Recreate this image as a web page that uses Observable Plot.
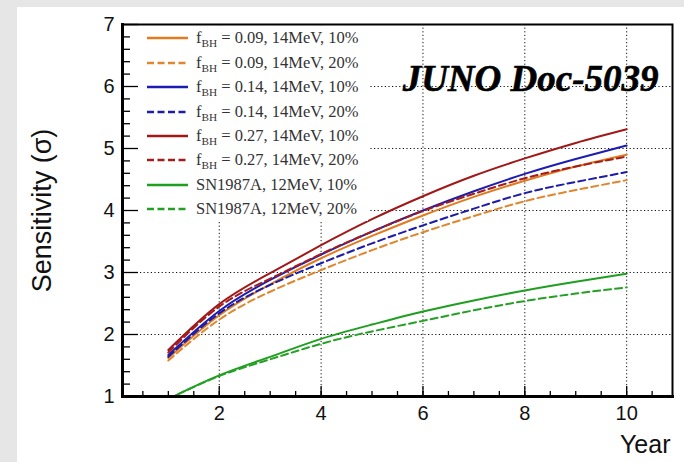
<!DOCTYPE html>
<html>
<head>
<meta charset="utf-8">
<script src="https://cdn.jsdelivr.net/npm/d3@7"></script>
<script src="https://cdn.jsdelivr.net/npm/@observablehq/plot@0.6"></script>
<style>
  html, body { margin: 0; padding: 0; width: 684px; height: 462px; overflow: hidden; background: #e6e6e6; }
  #panel { position: absolute; left: 17px; top: 7px; right: 0; bottom: 0; background: #ffffff; }
  #chart { position: absolute; left: 0; top: 0; }
  #legend { position: absolute; left: 139px; top: 26px; width: 229px; height: 195px; background: #ffffff; }
  .row { position: absolute; left: 0; height: 24px; display: flex; align-items: center; white-space: nowrap;
         font-family: "Liberation Serif", "Times New Roman", serif; font-size: 16.5px; color: #333; }
  .row svg { margin-left: 8px; margin-right: 8px; }
  .row sub { font-size: 0.68em; vertical-align: -0.4em; line-height: 0; }
</style>
</head>
<body>
<div id="panel"></div>
<div id="chart"></div>
<div id="legend"></div>
<script>
// ---- data ----
const years = [1, 2, 3, 4, 5, 6, 7, 8, 9, 10];
const fbh009_10 = [1.62, 2.31, 2.81, 3.23, 3.59, 3.92, 4.22, 4.48, 4.71, 4.90];
const fbh009_20 = [1.58, 2.24, 2.69, 3.04, 3.36, 3.65, 3.91, 4.15, 4.33, 4.49];
const fbh014_10 = [1.67, 2.38, 2.88, 3.29, 3.66, 4.00, 4.31, 4.59, 4.83, 5.05];
const fbh014_20 = [1.64, 2.34, 2.80, 3.15, 3.47, 3.76, 4.03, 4.28, 4.46, 4.62];
const fbh027_10 = [1.75, 2.49, 2.99, 3.44, 3.86, 4.23, 4.56, 4.84, 5.09, 5.31];
const fbh027_20 = [1.71, 2.45, 2.90, 3.30, 3.66, 3.99, 4.27, 4.52, 4.71, 4.87];
const sn1987a_10 = [0.96, 1.34, 1.64, 1.93, 2.16, 2.37, 2.55, 2.71, 2.85, 2.98];
const sn1987a_20 = [0.96, 1.33, 1.60, 1.85, 2.05, 2.22, 2.39, 2.54, 2.66, 2.76];

const seriesValues = [fbh009_10, fbh009_20, fbh014_10, fbh014_20, fbh027_10, fbh027_20, sn1987a_10, sn1987a_20];
const seriesFbh = ["0.09", "0.09", "0.14", "0.14", "0.27", "0.27", null, null];
const seriesEnergy = ["14MeV", "14MeV", "14MeV", "14MeV", "14MeV", "14MeV", "12MeV", "12MeV"];
const seriesUnc = ["10%", "20%", "10%", "20%", "10%", "20%", "10%", "20%"];
const seriesColors = ["#e07b1e", "#e0862e", "#1c1cb0", "#1c1ca8", "#a01818", "#a51c1c", "#1f9f1f", "#25a025"];
const seriesDashed = [false, true, false, true, false, true, false, true];

const xTickLabels = [2, 4, 6, 8, 10];
const yTickLabels = [1, 2, 3, 4, 5, 6, 7];
const xMinorTicks = d3.range(0.5, 10.9, 0.5);
const yMinorTicks = d3.range(1, 7.0001, 0.2).map(d => +d.toFixed(1)).filter(d => Math.abs(d - Math.round(d)) > 1e-6);

// ---- layout ----
const W = 684, H = 462, mL = 122, mT = 24, mR = 12, mB = 66;
const frameW = W - mL - mR, frameH = H - mT - mB;

const rows = seriesValues.map((vals, i) => years.map((x, j) => ({series: i, x, y: vals[j]})));

const lineMarks = rows.map((data, i) => Plot.line(data, {
  x: "x", y: "y", stroke: seriesColors[i], strokeWidth: 2,
  strokeDasharray: seriesDashed[i] ? "7,4" : null,
  curve: "natural", clip: true
}));

const chart = Plot.plot({
  width: W, height: H,
  marginLeft: mL, marginTop: mT, marginRight: mR, marginBottom: mB,
  style: {background: "transparent", fontFamily: "'Liberation Sans', Arial, sans-serif", fontSize: "19px", color: "#000", overflow: "visible"},
  x: {domain: [0.1, 10.9], axis: null},
  y: {domain: [1, 7], axis: null},
  marks: [
    Plot.ruleX(xTickLabels, {stroke: "#111", strokeWidth: 1, strokeDasharray: "1.2,2.4"}),
    Plot.ruleY(yTickLabels.filter(d => d > 1 && d < 7), {stroke: "#111", strokeWidth: 1, strokeDasharray: "1.2,2.4"}),
    ...lineMarks,
    Plot.tickX(xMinorTicks, {stroke: "#000", strokeWidth: 1.3, insetTop: frameH - 5}),
    Plot.tickX(xTickLabels, {stroke: "#000", strokeWidth: 1.3, insetTop: frameH - 10}),
    Plot.tickY(yMinorTicks, {stroke: "#000", strokeWidth: 1.3, insetRight: frameW - 8}),
    Plot.tickY(yTickLabels, {stroke: "#000", strokeWidth: 1.3, insetRight: frameW - 16}),
    Plot.text(xTickLabels, {x: d => d, text: d => String(d), frameAnchor: "bottom", lineAnchor: "top",
      dy: 9, fontSize: 20, fill: "#111"}),
    Plot.text(yTickLabels, {y: d => d, text: d => String(d), frameAnchor: "left", textAnchor: "end",
      lineAnchor: "middle", dx: -8, fontSize: 20, fill: "#111"}),
    Plot.frame({stroke: "#000", strokeWidth: 2}),
    Plot.frame({anchor: "left", stroke: "#000", strokeWidth: 3}),
    Plot.frame({anchor: "bottom", stroke: "#000", strokeWidth: 3}),
    Plot.text(["Year"], {frameAnchor: "bottom-right", text: d => d, textAnchor: "end", lineAnchor: "bottom",
      dx: -2, dy: 56, fontSize: 25, fill: "#111"}),
    Plot.text(["Sensitivity (σ)"], {frameAnchor: "left", text: d => d, rotate: -90, textAnchor: "middle",
      lineAnchor: "middle", dx: -80, fontSize: 27, fill: "#111"}),
    Plot.text(["JUNO Doc-5039"], {frameAnchor: "top-right", text: d => d, textAnchor: "end", lineAnchor: "bottom",
      dx: -14, dy: 66, fontSize: 37, fontWeight: "bold", fontStyle: "italic",
      fontFamily: "'Liberation Serif', 'Times New Roman', serif", fill: "#000",
      stroke: "#000", strokeWidth: 0.6})
  ]
});
document.getElementById("chart").appendChild(chart);

// ---- legend ----
const legend = document.getElementById("legend");
const rowSpacing = 24.43, firstRow = 12.3;
seriesValues.forEach((_, i) => {
  const row = document.createElement("div");
  row.className = "row";
  row.style.top = (firstRow + i * rowSpacing - 12) + "px";
  const dash = seriesDashed[i] ? ` stroke-dasharray="7,3.5"` : "";
  const label = seriesFbh[i] !== null
    ? `f<sub>BH</sub>&nbsp;= ${seriesFbh[i]}, ${seriesEnergy[i]}, ${seriesUnc[i]}`
    : `SN1987A, ${seriesEnergy[i]}, ${seriesUnc[i]}`;
  row.innerHTML = `<svg width="41" height="8"><line x1="0" y1="4" x2="41" y2="4" stroke="${seriesColors[i]}" stroke-width="2.5"${dash}/></svg><span>${label}</span>`;
  legend.appendChild(row);
});
</script>
</body>
</html>
